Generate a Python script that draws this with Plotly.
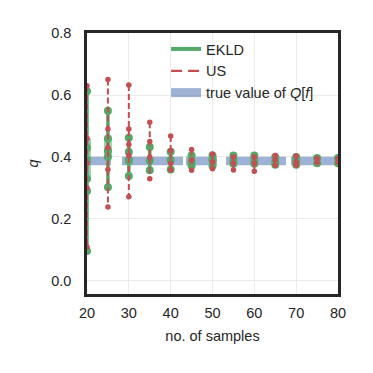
import plotly.graph_objects as go

# ---- data ----
sample_sizes = [20, 25, 30, 35, 40, 45, 50, 55, 60, 65, 70, 75, 80]
ekld_values = [
    [0.612, 0.43, 0.39, 0.33, 0.29, 0.097],
    [0.549, 0.46, 0.42, 0.40, 0.302],
    [0.462, 0.416, 0.39, 0.339],
    [0.432, 0.389, 0.357],
    [0.417, 0.39, 0.36],
    [0.405, 0.385, 0.372],
    [0.405, 0.39, 0.372],
    [0.405, 0.39, 0.378],
    [0.405, 0.39, 0.378],
    [0.40, 0.385, 0.375],
    [0.40, 0.387, 0.375],
    [0.397, 0.38],
    [0.397, 0.38],
]
us_values = [
    [0.63, 0.46, 0.38, 0.30, 0.11],
    [0.65, 0.49, 0.43, 0.36, 0.239],
    [0.632, 0.49, 0.44, 0.405, 0.272],
    [0.512, 0.45, 0.40, 0.33],
    [0.468, 0.42, 0.38, 0.358],
    [0.424, 0.39, 0.357],
    [0.41, 0.385, 0.362],
    [0.40, 0.38, 0.358],
    [0.40, 0.38, 0.354],
    [0.405, 0.39, 0.373],
    [0.403, 0.385, 0.373],
    [0.395, 0.382],
    [0.395, 0.383],
]
# lighter, wider overlap band of EKLD runs at the small sample sizes
ekld_band_x = [20, 25, 30]
ekld_band_values = [[0.46, 0.325], [0.46, 0.40], [0.40, 0.375]]
true_value = 0.387
x_ticks = [20, 30, 40, 50, 60, 70, 80]
y_ticks = [0.0, 0.2, 0.4, 0.6, 0.8]

GREEN = "#55A868"
RED = "#C44E52"
BLUE = "rgba(76,114,176,0.55)"
TEXT = "#262626"
FONT = "Liberation Sans, Arial, sans-serif"


def flatten(xs, groups):
    X, Y = [], []
    for x, vals in zip(xs, groups):
        for v in vals:
            X.append(x)
            Y.append(v)
        X.append(None)
        Y.append(None)
    return X, Y


fig = go.Figure()

# true value line
fig.add_trace(go.Scatter(
    x=[sample_sizes[0], sample_sizes[-1]], y=[true_value, true_value],
    mode="lines", line=dict(color=BLUE, width=8.5,
                            dash="24px,11px,61px,3px,31px,9px,60px,5px,60px,4px"),
    showlegend=False, hoverinfo="skip"))

bx, by = flatten(ekld_band_x, ekld_band_values)
fig.add_trace(go.Scatter(
    x=bx, y=by, mode="lines",
    line=dict(color="rgba(85,168,104,0.55)", width=8),
    showlegend=False, hoverinfo="skip"))

ex, ey = flatten(sample_sizes, ekld_values)
fig.add_trace(go.Scatter(
    x=ex, y=ey, mode="lines+markers",
    line=dict(color=GREEN, width=3.5),
    marker=dict(color=GREEN, size=8),
    showlegend=False))

ux, uy = flatten(sample_sizes, us_values)
fig.add_trace(go.Scatter(
    x=ux, y=uy, mode="lines+markers",
    line=dict(color=RED, width=2, dash="6px,3px"),
    marker=dict(color=RED, size=5.5),
    showlegend=False))

# legend entries
fig.add_trace(go.Scatter(x=[None], y=[None], mode="lines", name="EKLD",
                         line=dict(color=GREEN, width=4)))
fig.add_trace(go.Scatter(x=[None], y=[None], mode="lines", name="US",
                         line=dict(color=RED, width=2.2, dash="11px,6px")))
fig.add_trace(go.Scatter(x=[None], y=[None], mode="lines",
                         name="true value of <i>Q</i>[<i>f</i>]",
                         line=dict(color=BLUE, width=9)))

axis_common = dict(
    showgrid=True, gridcolor="#EBEBEB", gridwidth=1,
    showline=True, mirror=True, linecolor=TEXT, linewidth=2.5,
    zeroline=False, ticks="outside", tickcolor="rgba(0,0,0,0)",
    tickfont=dict(family=FONT, size=14.5, color=TEXT),
)

# page body has an 8px default margin; size figure to fit the 373px window
fig.update_layout(
    width=365, height=365, autosize=False,
    margin=dict(l=79, r=35, t=25, b=79),
    paper_bgcolor="white", plot_bgcolor="white",
    font=dict(family=FONT, size=14.5, color=TEXT),
    xaxis=dict(range=[20, 80], tickvals=x_ticks, ticklen=4,
               title=dict(text="no. of samples", standoff=11,
                          font=dict(family=FONT, size=14.5, color=TEXT)),
               **axis_common),
    yaxis=dict(range=[-0.042, 0.8], tickvals=y_ticks, tickformat=".1f",
               ticklen=10,
               title=dict(text="<i>q</i>", standoff=10,
                          font=dict(family=FONT, size=14.5, color=TEXT)),
               **axis_common),
    legend=dict(x=0.315, y=1.0, xanchor="left", yanchor="top",
                bgcolor="rgba(255,255,255,0)", borderwidth=0,
                font=dict(family=FONT, size=14.5, color=TEXT)),
    showlegend=True,
)

fig.write_html("out.html")
